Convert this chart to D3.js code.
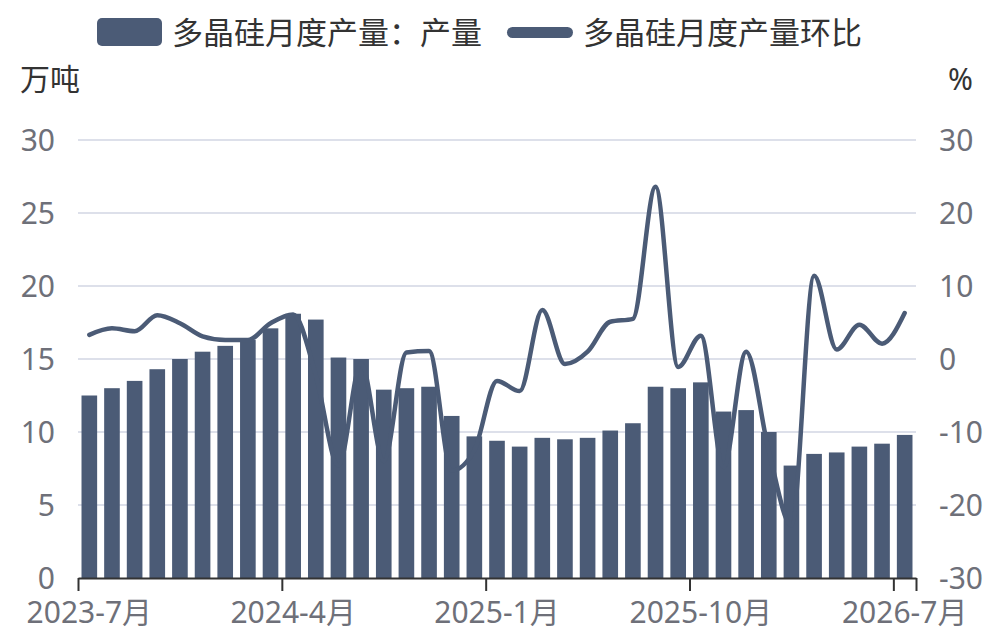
<!DOCTYPE html>
<html>
<head>
<meta charset="utf-8">
<script src="https://cdn.jsdelivr.net/npm/d3@7"></script>
<style>
  body { margin: 0; background: #fff; }
  svg { display: block; font-family: "Noto Sans", "Noto Sans CJK SC", sans-serif; }
</style>
</head>
<body>
<svg id="chart"></svg>
<script>
const width = 1006;
const height = 638;

const months = [
    "2023-7月", "2023-8月", "2023-9月", "2023-10月", "2023-11月", "2023-12月",
    "2024-1月", "2024-2月", "2024-3月", "2024-4月", "2024-5月", "2024-6月",
    "2024-7月", "2024-8月", "2024-9月", "2024-10月", "2024-11月", "2024-12月",
    "2025-1月", "2025-2月", "2025-3月", "2025-4月", "2025-5月", "2025-6月",
    "2025-7月", "2025-8月", "2025-9月", "2025-10月", "2025-11月", "2025-12月",
    "2026-1月", "2026-2月", "2026-3月", "2026-4月", "2026-5月", "2026-6月",
    "2026-7月"
];

// 多晶硅月度产量 (万吨)
const output = [
    12.5, 13.0, 13.5, 14.3, 15.0, 15.5, 15.9, 16.3, 17.1, 18.1,
    17.7, 15.1, 15.0, 12.9, 13.0, 13.1, 11.1, 9.7, 9.4, 9.0,
    9.6, 9.5, 9.6, 10.1, 10.6, 13.1, 13.0, 13.4, 11.4, 11.5,
    10.0, 7.7, 8.5, 8.6, 9.0, 9.2, 9.8
];

// 环比 (%)
const mom = [
    3.3, 4.2, 3.8, 6.0, 4.9, 3.1, 2.6, 2.6, 4.9, 6.1,
    -2.2, -14.6, -0.6, -14.0, 0.9, 1.1, -15.3, -12.5, -3.0, -4.4,
    6.7, -0.7, 1.0, 5.1, 5.5, 23.6, -1.1, 3.2, -14.8, 1.0,
    -12.6, -22.8, 11.4, 1.3, 4.7, 2.1, 6.3
];

const leftTicks = [0, 5, 10, 15, 20, 25, 30];
const rightTicks = [-30, -20, -10, 0, 10, 20, 30];
const labelIdx = [0, 9, 18, 27, 36];

const seriesNames = ["多晶硅月度产量：产量", "多晶硅月度产量环比"];

const color = "#4b5b76";
const gridColor = "#dde0ea";
const labelColor = "#6e7079";

const margin = { left: 78, right: 90, top: 140, bottom: 60 };
const x0 = margin.left, x1 = width - margin.right;
const yTop = margin.top, yBot = height - margin.bottom;

const svg = d3.select("#chart")
    .attr("width", width)
    .attr("height", height);

const x = d3.scaleBand()
    .domain(months)
    .range([x0, x1])
    .padding(0);

const xIdx = d3.scaleLinear()
    .domain([0, months.length])
    .range([x0, x1]);

const yL = d3.scaleLinear().domain([0, 30]).range([yBot, yTop]);
const yR = d3.scaleLinear().domain([-30, 30]).range([yBot, yTop]);

// grid
svg.append("g")
    .selectAll("line")
    .data(leftTicks.filter(d => d > 0))
    .enter()
    .append("line")
    .attr("x1", x0)
    .attr("x2", x1)
    .attr("y1", d => yL(d))
    .attr("y2", d => yL(d))
    .attr("stroke", gridColor)
    .attr("stroke-width", 2);

// left labels
svg.append("g")
    .selectAll("text")
    .data(leftTicks)
    .enter()
    .append("text")
    .attr("x", 55)
    .attr("y", d => yL(d))
    .attr("dy", "0.36em")
    .attr("text-anchor", "end")
    .attr("font-size", 30)
    .attr("fill", labelColor)
    .text(d => d);

// right labels
svg.append("g")
    .selectAll("text")
    .data(rightTicks)
    .enter()
    .append("text")
    .attr("x", 939)
    .attr("y", d => yR(d))
    .attr("dy", "0.36em")
    .attr("text-anchor", "start")
    .attr("font-size", 30)
    .attr("fill", labelColor)
    .text(d => d);

// bars
const barW = x.bandwidth() * 0.69;
svg.append("g")
    .selectAll("rect")
    .data(output)
    .enter()
    .append("rect")
    .attr("x", (d, i) => x(months[i]) + (x.bandwidth() - barW) / 2)
    .attr("y", d => yL(d))
    .attr("width", barW)
    .attr("height", d => yL(0) - yL(d))
    .attr("fill", color);

// line
const line = d3.line()
    .x((d, i) => x(months[i]) + x.bandwidth() / 2)
    .y(d => yR(d))
    .curve(d3.curveMonotoneX);

svg.append("path")
    .datum(mom)
    .attr("d", line)
    .attr("fill", "none")
    .attr("stroke", color)
    .attr("stroke-width", 4.5)
    .attr("stroke-linejoin", "round")
    .attr("stroke-linecap", "round");

// x axis
const xAxis = svg.append("g")
    .attr("transform", `translate(0,${yBot})`)
    .call(d3.axisBottom(xIdx)
        .tickValues([...labelIdx, months.length])
        .tickSize(13)
        .tickSizeOuter(0)
        .tickFormat(""));
xAxis.select(".domain").attr("stroke", "#333").attr("stroke-width", 2);
xAxis.selectAll(".tick line").attr("stroke", "#333").attr("stroke-width", 2);

svg.append("g")
    .selectAll("text")
    .data(labelIdx)
    .enter()
    .append("text")
    .attr("x", d => x(months[d]) + x.bandwidth() / 2)
    .attr("y", 623)
    .attr("text-anchor", "middle")
    .attr("font-size", 30)
    .attr("fill", labelColor)
    .text(d => months[d]);

// axis names
svg.append("text")
    .attr("x", 20)
    .attr("y", 90)
    .attr("font-size", 30)
    .attr("font-family", "Noto Sans CJK SC")
    .attr("fill", "#333")
    .text("万吨");

svg.append("text")
    .attr("x", 973)
    .attr("y", 90)
    .attr("text-anchor", "end")
    .attr("font-size", 30)
    .attr("fill", "#333")
    .text("%");

// legend
const legend = svg.append("g").attr("font-family", "Noto Sans CJK SC");

legend.append("rect")
    .attr("x", 97).attr("y", 18)
    .attr("width", 65).attr("height", 28)
    .attr("rx", 5)
    .attr("fill", color);

legend.append("text")
    .attr("x", 172).attr("y", 33)
    .attr("dy", "0.36em")
    .attr("font-size", 31)
    .attr("fill", "#333")
    .text(seriesNames[0]);

legend.append("rect")
    .attr("x", 507).attr("y", 27)
    .attr("width", 66).attr("height", 11)
    .attr("rx", 5.5)
    .attr("fill", color);

legend.append("text")
    .attr("x", 583).attr("y", 33)
    .attr("dy", "0.36em")
    .attr("font-size", 31)
    .attr("fill", "#333")
    .text(seriesNames[1]);
</script>
</body>
</html>
